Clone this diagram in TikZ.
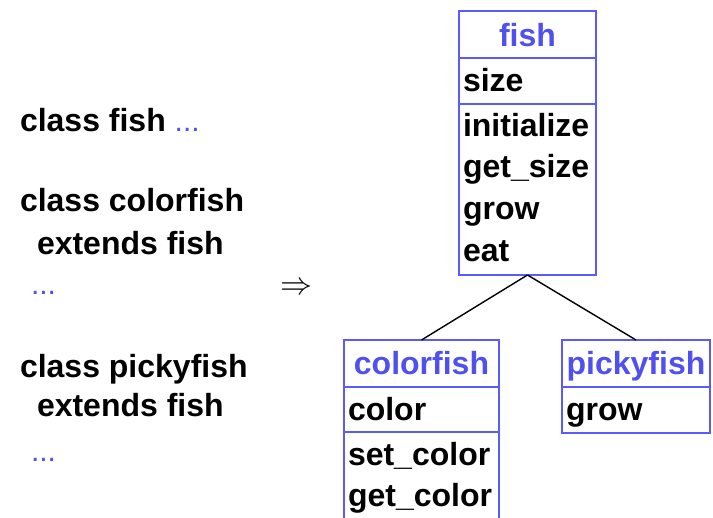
\documentclass[tikz,border=0pt]{standalone}
\usepackage{fontspec}
\usepackage{graphicx}
\setmainfont{Liberation Sans}
\definecolor{umlblue}{RGB}{90,90,255}
\definecolor{titleblue}{RGB}{80,80,240}
\begin{document}
\begin{tikzpicture}[x=1pt,y=-1pt,
  every node/.style={inner sep=0pt, outer sep=0pt},
  cell/.style={draw=umlblue, line width=1.8pt, anchor=north west},
  member/.style={anchor=base west, font=\fontsize{32}{38}\selectfont\bfseries},
  title/.style={anchor=base, font=\fontsize{32}{38}\selectfont\bfseries, text=titleblue},
  dots/.style={text=titleblue, font=\fontsize{30}{36}\selectfont},
  link/.style={draw=black, line width=1.4pt}]
\useasboundingbox (0,0) rectangle (713,518);
\clip (0,0) rectangle (713,518);

% class fish
\node[cell, minimum width=137pt, minimum height=47pt] (fishT) at (459,11) {};
\node[cell, minimum width=137pt, minimum height=46pt] (fishA) at (459,58) {};
\node[cell, minimum width=137pt, minimum height=171pt] (fishO) at (459,104) {};
\node[title] (fishName) at (527.5,47) {fish};
\node[member] (fishSize) at (463,92) {size};
\node[member] (fishInit) at (463,137) {initialize};
\node[member] (fishGet) at (463,178) {get\_size};
\node[member] (fishGrow) at (463,220) {grow};
\node[member] (fishEat) at (463,262) {eat};

% class colorfish
\node[cell, minimum width=155pt, minimum height=47pt] (colorT) at (344,340) {};
\node[cell, minimum width=155pt, minimum height=45pt] (colorA) at (344,387) {};
\node[cell, minimum width=155pt, minimum height=110pt] (colorO) at (344,432) {};
\node[title] (colorName) at (421.5,375) {colorfish};
\node[member] (colorAttr) at (348,421) {color};
\node[member] (colorSet) at (348,466) {set\_color};
\node[member] (colorGet) at (348,507) {get\_color};

% class pickyfish
\node[cell, minimum width=148pt, minimum height=47pt] (pickyT) at (562,340) {};
\node[cell, minimum width=148pt, minimum height=46pt] (pickyO) at (562,387) {};
\node[title] (pickyName) at (636,375) {pickyfish};
\node[member] (pickyGrow) at (566,421) {grow};

% inheritance links
\draw[link] (fishO.south) -- (colorT.north);
\draw[link] (fishO.south) -- (pickyT.north);

% source text
\node[member] (srcFish) at (20,132) {class fish \textcolor{titleblue}{\mdseries\fontsize{30}{36}\selectfont...}};
\node[member] (srcColor) at (20,212) {class colorfish};
\node[member] (srcColorExt) at (37,255) {extends fish};
\node[member, dots] (srcColorDots) at (31,295) {...};
\node[member] (srcPicky) at (20,378) {class pickyfish};
\node[member] (srcPickyExt) at (37,417) {extends fish};
\node[member, dots] (srcPickyDots) at (31,462) {...};
\node (implies) at (296,289) {\scalebox{3.2}{$\Rightarrow$}};
\end{tikzpicture}
\end{document}
